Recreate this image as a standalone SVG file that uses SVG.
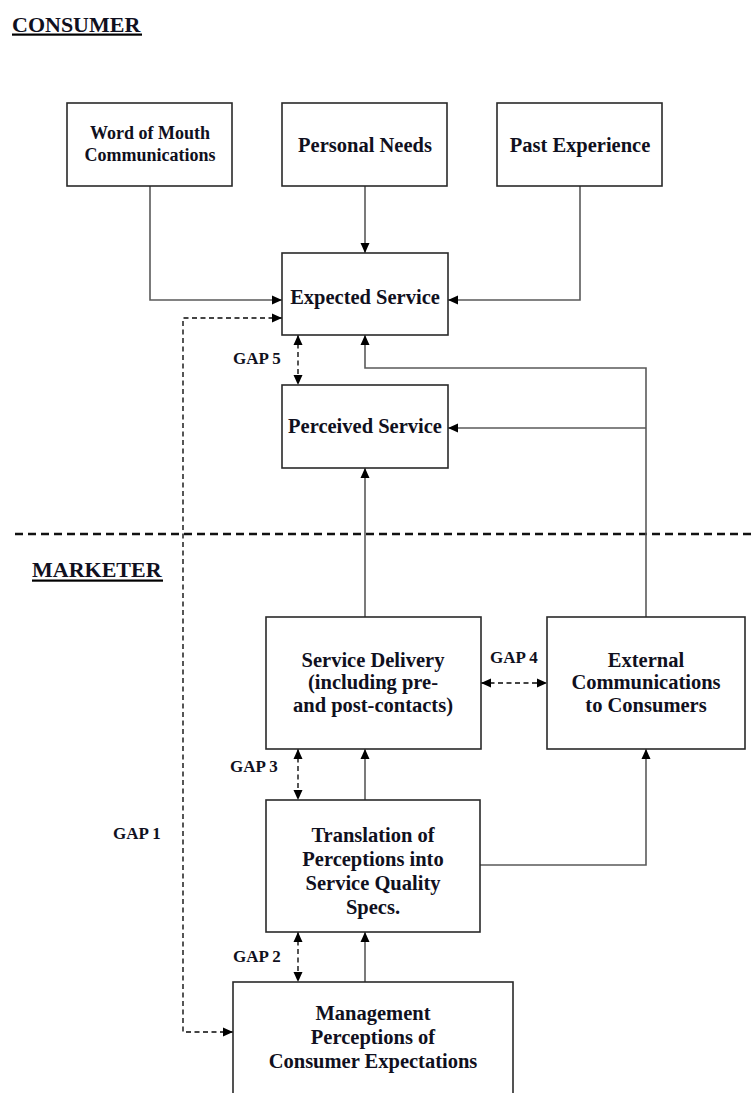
<svg xmlns="http://www.w3.org/2000/svg" width="753" height="1093" viewBox="0 0 753 1093">
<defs>
<style>
.box{fill:#fff;stroke:#2a2a2a;stroke-width:1.6}
.lbl{font-family:"Liberation Serif","Times New Roman",serif;font-weight:bold;fill:#101020;text-anchor:middle;font-size:20.5px}
.sm{font-size:18px}
.gap{font-family:"Liberation Serif","Times New Roman",serif;font-weight:bold;fill:#101020;font-size:17px}
.head{font-family:"Liberation Serif","Times New Roman",serif;font-weight:bold;fill:#101020;font-size:22px}
.ln{fill:none;stroke:#5a5a5a;stroke-width:1.6}
.dl{fill:none;stroke:#444;stroke-width:1.8;stroke-dasharray:5 3.5}
</style>
<marker id="ah" viewBox="0 0 10 10" refX="10" refY="5" markerWidth="10" markerHeight="10" markerUnits="userSpaceOnUse" orient="auto-start-reverse">
<path d="M0,0.5 L10,5 L0,9.5 Z" fill="#000"/>
</marker>
</defs>

<g id="headers">
<text class="head" x="12" y="32">CONSUMER</text>
<rect x="12" y="33.5" width="130" height="2.2" fill="#000"/>
<text class="head" x="32" y="577">MARKETER</text>
<rect x="32" y="579.5" width="131" height="2.2" fill="#000"/>
<line x1="15" y1="534" x2="753" y2="534" stroke="#111" stroke-width="2.5" stroke-dasharray="8 5"/>
</g>

<g id="connectors">
<path class="ln" d="M150,186 V300 H282" marker-end="url(#ah)"/>
<path class="ln" d="M365,186 V253" marker-end="url(#ah)"/>
<path class="ln" d="M580,186 V300 H448" marker-end="url(#ah)"/>
<path class="dl" d="M282,318 H183 V1032 H233" marker-start="url(#ah)" marker-end="url(#ah)"/>
<path class="dl" d="M298,335 V385" marker-start="url(#ah)" marker-end="url(#ah)"/>
<path class="ln" d="M365,617 V468" marker-end="url(#ah)"/>
<path class="ln" d="M646,617 V368 H365 V335" marker-end="url(#ah)"/>
<path class="ln" d="M646,428 H448" marker-end="url(#ah)"/>
<path class="dl" d="M481,683 H547" marker-start="url(#ah)" marker-end="url(#ah)"/>
<path class="ln" d="M365,800 V749" marker-end="url(#ah)"/>
<path class="dl" d="M298,749 V800" marker-start="url(#ah)" marker-end="url(#ah)"/>
<path class="ln" d="M480,865 H646 V749" marker-end="url(#ah)"/>
<path class="ln" d="M365,982 V932" marker-end="url(#ah)"/>
<path class="dl" d="M298,932 V982" marker-start="url(#ah)" marker-end="url(#ah)"/>
</g>

<g id="gap-labels">
<text class="gap" x="233" y="364">GAP 5</text>
<text class="gap" x="490" y="663">GAP 4</text>
<text class="gap" x="230" y="772">GAP 3</text>
<text class="gap" x="233" y="962">GAP 2</text>
<text class="gap" x="113" y="839">GAP 1</text>
</g>

<g id="word-of-mouth">
<rect class="box" x="67" y="103" width="165" height="83"/>
<text class="lbl sm" x="150" y="139">Word of Mouth</text>
<text class="lbl sm" x="150" y="161">Communications</text>
</g>

<g id="personal-needs">
<rect class="box" x="282" y="103" width="165" height="83"/>
<text class="lbl" x="365" y="152">Personal Needs</text>
</g>

<g id="past-experience">
<rect class="box" x="497" y="103" width="165" height="83"/>
<text class="lbl" x="580" y="152">Past Experience</text>
</g>

<g id="expected-service">
<rect class="box" x="282" y="253" width="166" height="82"/>
<text class="lbl" x="365" y="304">Expected Service</text>
</g>

<g id="perceived-service">
<rect class="box" x="282" y="385" width="166" height="83"/>
<text class="lbl" x="365" y="433">Perceived Service</text>
</g>

<g id="service-delivery">
<rect class="box" x="266" y="617" width="215" height="132"/>
<text class="lbl" x="373" y="667">Service Delivery</text>
<text class="lbl" x="373" y="689">(including pre-</text>
<text class="lbl" x="373" y="712">and post-contacts)</text>
</g>

<g id="external-communications">
<rect class="box" x="547" y="617" width="198" height="132"/>
<text class="lbl" x="646" y="667">External</text>
<text class="lbl" x="646" y="689">Communications</text>
<text class="lbl" x="646" y="712">to Consumers</text>
</g>

<g id="translation">
<rect class="box" x="266" y="800" width="214" height="132"/>
<text class="lbl" x="373" y="842">Translation of</text>
<text class="lbl" x="373" y="866">Perceptions into</text>
<text class="lbl" x="373" y="890">Service Quality</text>
<text class="lbl" x="373" y="914">Specs.</text>
</g>

<g id="management">
<rect class="box" x="233" y="982" width="280" height="130"/>
<text class="lbl" x="373" y="1020">Management</text>
<text class="lbl" x="373" y="1044">Perceptions of</text>
<text class="lbl" x="373" y="1068">Consumer Expectations</text>
</g>
</svg>
